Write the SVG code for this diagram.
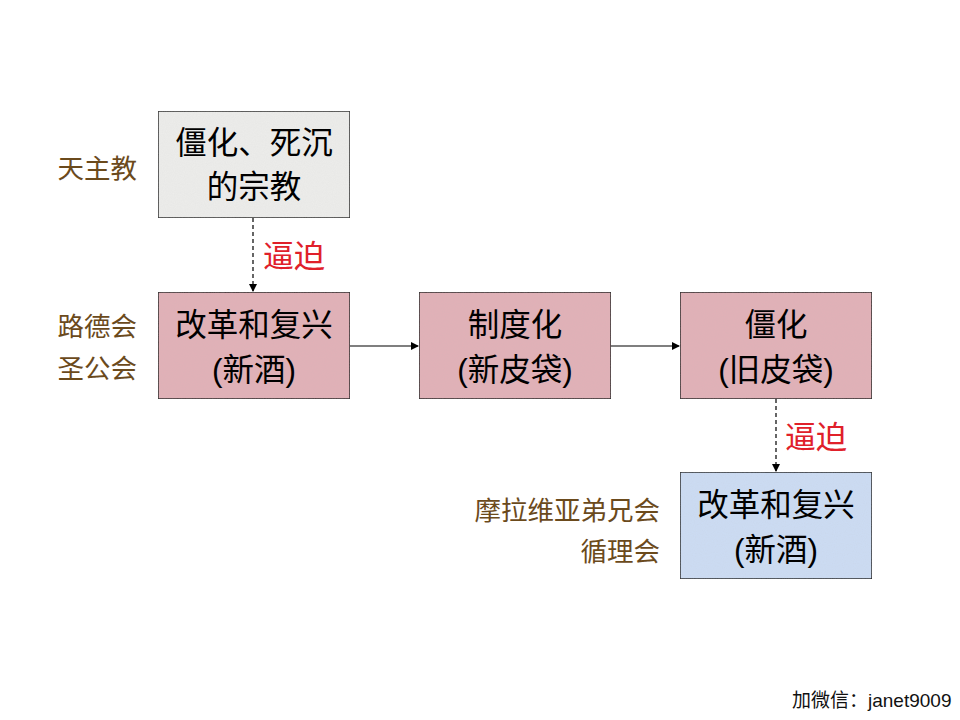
<svg xmlns="http://www.w3.org/2000/svg" width="960" height="720" viewBox="0 0 960 720">
<style>
.box{stroke:#000;stroke-width:1.3}
.gray{fill:#EDEDEB}
.pink{fill:#E2B0B6}
.blue{fill:#CCDCF4}
.bt{font-family:"Liberation Sans","Noto Sans CJK SC",sans-serif;font-size:31.5px;fill:#000;text-anchor:middle}
.lab{font-family:"Liberation Sans","Noto Sans CJK SC",sans-serif;font-size:26.5px;fill:#6B4A1C;text-anchor:end}
.red{font-family:"Liberation Sans","Noto Sans CJK SC",sans-serif;font-size:31px;fill:#E0202A}
.wm{font-family:"Liberation Sans","Noto Sans CJK SC",sans-serif;font-size:19px;fill:#111}
.ln{stroke:#000;stroke-width:1.2;fill:none}
.dash{stroke-dasharray:4 3}
</style>
<defs>
<filter id="tex" x="0" y="0" width="1" height="1">
<feTurbulence type="fractalNoise" baseFrequency="0.9" numOctaves="2" seed="3" result="n"/>
<feColorMatrix in="n" type="matrix" values="0 0 0 0 0.5 0 0 0 0 0.5 0 0 0 0 0.5 0 0 0 0.14 0" result="g"/>
<feComposite in="g" in2="SourceGraphic" operator="atop"/>
</filter>
<marker id="ah" markerWidth="8" markerHeight="8" refX="7" refY="4" orient="auto" markerUnits="userSpaceOnUse">
<path d="M0,0 L8,4 L0,8 Z" fill="#000"/>
</marker>
</defs>
<rect width="960" height="720" fill="#fff"/>
<g id="connectors">
<line class="ln dash" x1="253" y1="218" x2="253" y2="291" marker-end="url(#ah)"/>
<line class="ln" x1="350" y1="346" x2="418" y2="346" marker-end="url(#ah)"/>
<line class="ln" x1="611" y1="346" x2="679" y2="346" marker-end="url(#ah)"/>
<line class="ln dash" x1="776" y1="399" x2="776" y2="471" marker-end="url(#ah)"/>
<text class="red" x="263" y="267">逼迫</text>
<text class="red" x="785" y="448">逼迫</text>
</g>
<g id="node-catholic">
<rect class="box gray" x="158" y="111" width="192" height="107" filter="url(#tex)"/>
<text class="bt" x="254" y="154">僵化、死沉</text>
<text class="bt" x="254" y="198">的宗教</text>
</g>
<g id="node-reform1">
<rect class="box pink" x="158" y="292" width="192" height="107" filter="url(#tex)"/>
<text class="bt" x="254" y="336">改革和复兴</text>
<text class="bt" x="254" y="381">(新酒)</text>
</g>
<g id="node-institution">
<rect class="box pink" x="419" y="292" width="192" height="107" filter="url(#tex)"/>
<text class="bt" x="515" y="336">制度化</text>
<text class="bt" x="515" y="381">(新皮袋)</text>
</g>
<g id="node-rigid">
<rect class="box pink" x="680" y="292" width="192" height="107" filter="url(#tex)"/>
<text class="bt" x="776" y="336">僵化</text>
<text class="bt" x="776" y="381">(旧皮袋)</text>
</g>
<g id="node-reform2">
<rect class="box blue" x="680" y="472" width="192" height="107" filter="url(#tex)"/>
<text class="bt" x="776" y="516">改革和复兴</text>
<text class="bt" x="776" y="561">(新酒)</text>
</g>
<g id="labels">
<text class="lab" x="137" y="178">天主教</text>
<text class="lab" x="137" y="336">路德会</text>
<text class="lab" x="137" y="378">圣公会</text>
<text class="lab" x="660" y="520">摩拉维亚弟兄会</text>
<text class="lab" x="660" y="561">循理会</text>
</g>
<text class="wm" x="792" y="707">加微信：janet9009</text>
</svg>
